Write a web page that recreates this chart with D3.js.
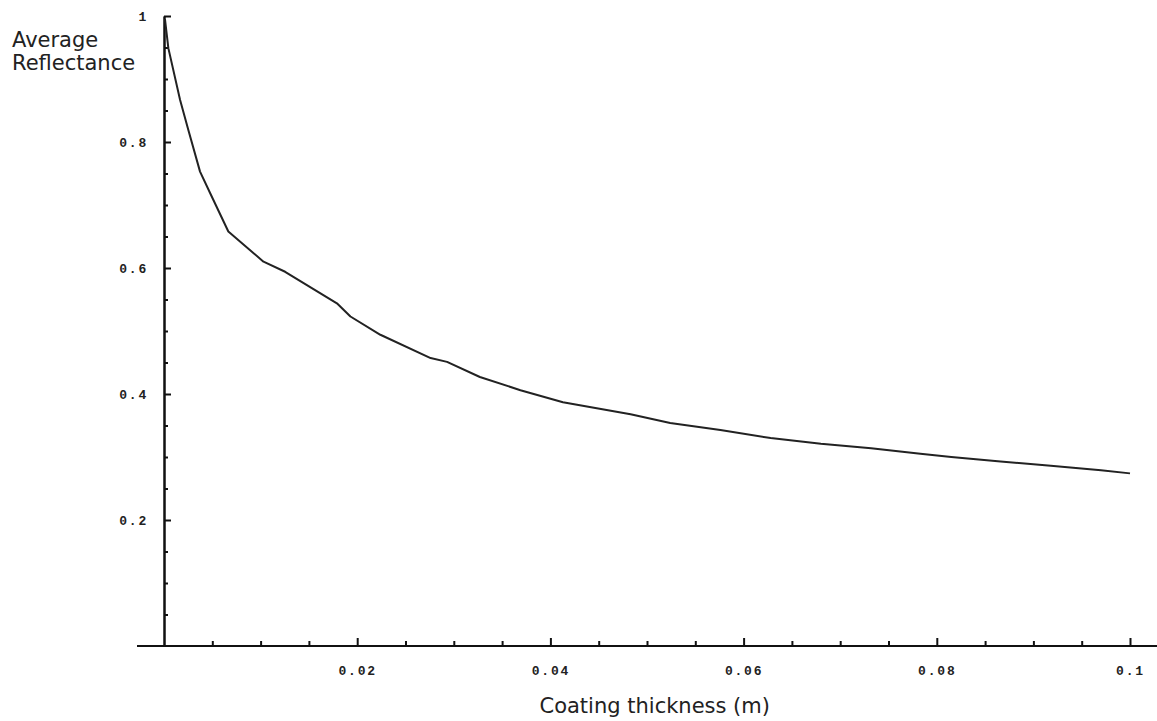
<!DOCTYPE html>
<html>
<head>
<meta charset="utf-8">
<script src="https://cdn.jsdelivr.net/npm/d3@7"></script>
<style>
  body { margin: 0; background: #fff; }
  .tick-label { font-family: "Liberation Mono", monospace; font-weight: bold; font-size: 13px; letter-spacing: 1.8px; fill: #222; }
  .axis-title { font-family: "DejaVu Sans", sans-serif; font-size: 21px; fill: #222; }
</style>
</head>
<body>
<svg id="chart"></svg>
<script>
// thickness (m) and average reflectance
const thickness = [0.0001, 0.00045, 0.00166, 0.00252, 0.00373, 0.00477, 0.00666, 0.0103, 0.01254,
  0.0179, 0.0193, 0.0224, 0.0276, 0.0293, 0.0327, 0.0369, 0.0413, 0.0483, 0.0524, 0.0576,
  0.0628, 0.068, 0.0732, 0.0783, 0.0815, 0.0866, 0.0918, 0.097, 0.1];
const reflectance = [0.995, 0.949, 0.867, 0.819, 0.753, 0.719, 0.658, 0.61, 0.594,
  0.544, 0.523, 0.494, 0.457, 0.451, 0.427, 0.406, 0.387, 0.368, 0.354, 0.343,
  0.33, 0.321, 0.314, 0.305, 0.3, 0.293, 0.286, 0.279, 0.274];

const xMajorTicks = [0.02, 0.04, 0.06, 0.08, 0.1];
const yMajorTicks = [0.2, 0.4, 0.6, 0.8, 1];
const xMinorTicks = d3.range(1, 20).map(i => i * 0.005).filter(v => !xMajorTicks.some(t => Math.abs(t - v) < 1e-9));
const yMinorTicks = d3.range(1, 20).map(i => i * 0.05).filter(v => !yMajorTicks.some(t => Math.abs(t - v) < 1e-9));

const xTitle = 'Coating thickness (m)';
const yTitle = ['Average', 'Reflectance'];

class lineChart {
    constructor(_config, _data) {
        this.config = {
            parentElement: _config.parentElement,
            containerWidth: _config.containerWidth || 1157,
            containerHeight: _config.containerHeight || 721,
            margin: _config.margin || {top: 16, right: 27, bottom: 75, left: 164}
        }
        this.data = _data;
        this.initVis();
    }

    initVis() {
        let vis = this;
        vis.width = 966;
        vis.height = vis.config.containerHeight - vis.config.margin.top - vis.config.margin.bottom;

        vis.xScale = d3.scaleLinear().domain([0, 0.1]).range([0, vis.width]);
        vis.yScale = d3.scaleLinear().domain([0, 1]).range([vis.height, 0]);

        vis.svg = d3.select(vis.config.parentElement)
            .attr('width', vis.config.containerWidth)
            .attr('height', vis.config.containerHeight);

        vis.chart = vis.svg.append('g')
            .attr('transform', `translate(${vis.config.margin.left},${vis.config.margin.top})`);

        // major + minor ticks; ticks point into the plot
        vis.xAxis = d3.axisBottom(vis.xScale).tickValues(xMajorTicks)
            .tickFormat(d => String(d)).tickSizeInner(-8).tickSizeOuter(0).tickPadding(20);
        vis.xMinor = d3.axisBottom(vis.xScale).tickValues(xMinorTicks)
            .tickFormat('').tickSizeInner(-5).tickSizeOuter(0);
        vis.yAxis = d3.axisLeft(vis.yScale).tickValues(yMajorTicks)
            .tickFormat(d => String(d)).tickSizeInner(-7).tickSizeOuter(0).tickPadding(16);
        vis.yMinor = d3.axisLeft(vis.yScale).tickValues(yMinorTicks)
            .tickFormat('').tickSizeInner(-4).tickSizeOuter(0);

        vis.line = d3.line()
            .x(d => vis.xScale(d.x))
            .y(d => vis.yScale(d.y))
            .curve(d3.curveLinear);

        vis.renderVis();
    }

    renderVis() {
        let vis = this;

        // x axis line runs past the origin and out to the window edge
        vis.chart.append('line')
            .attr('x1', vis.xScale(0) - 27)
            .attr('x2', vis.config.containerWidth - vis.config.margin.left)
            .attr('y1', vis.yScale(0)).attr('y2', vis.yScale(0))
            .attr('stroke', '#111').attr('stroke-width', 2);

        [vis.xAxis, vis.xMinor].forEach(ax => {
            const g = vis.chart.append('g').attr('transform', `translate(0,${vis.height})`).call(ax);
            g.select('.domain').remove();
        });
        [vis.yAxis, vis.yMinor].forEach(ax => {
            const g = vis.chart.append('g').call(ax);
            g.select('.domain').attr('stroke', '#111').attr('stroke-width', 2);
        });

        vis.chart.selectAll('.tick line').attr('stroke', '#111').attr('stroke-width', 2);
        vis.chart.selectAll('.tick text')
            .attr('class', 'tick-label')
            .attr('font-family', null).attr('font-size', null);

        vis.chart.append('path')
            .datum(vis.data)
            .attr('fill', 'none')
            .attr('stroke', '#222')
            .attr('stroke-width', 2)
            .attr('stroke-linejoin', 'round')
            .attr('d', vis.line);

        vis.svg.append('text')
            .attr('class', 'axis-title')
            .attr('x', vis.config.margin.left + vis.xScale(0.0508))
            .attr('y', 713)
            .attr('text-anchor', 'middle')
            .text(xTitle);

        vis.svg.append('text')
            .attr('class', 'axis-title')
            .selectAll('tspan')
            .data(yTitle)
            .join('tspan')
            .attr('x', 12)
            .attr('y', (d, i) => 47 + i * 23)
            .text(d => d);
    }
}

const data = thickness.map((x, i) => ({x: x, y: reflectance[i]}));
new lineChart({parentElement: '#chart'}, data);
</script>
</body>
</html>
